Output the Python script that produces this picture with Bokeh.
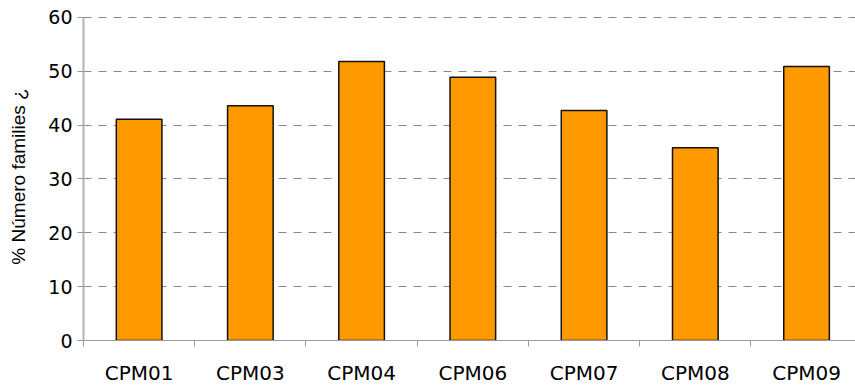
from bokeh.plotting import figure
from bokeh.models import FixedTicker, Range1d, ColumnDataSource
from bokeh.embed import file_html
from bokeh.resources import INLINE

categories = ["CPM01", "CPM03", "CPM04", "CPM06", "CPM07", "CPM08", "CPM09"]
values = [41.1, 43.6, 51.8, 48.9, 42.7, 35.8, 50.9]
y_ticks = [0, 10, 20, 30, 40, 50, 60]

positions = [i + 0.5 for i in range(len(categories))]
src = ColumnDataSource(dict(x=positions, top=values, cat=categories))

p = figure(width=855, height=387, output_backend="svg", toolbar_location=None,
           x_range=Range1d(0, 6.94), y_range=Range1d(0, 60.92),
           min_border_left=83, min_border_right=0, min_border_top=12, min_border_bottom=45)
p.outline_line_color = None
p.background_fill_color = "white"
p.border_fill_color = "white"

p.vbar(x="x", top="top", width=0.41, bottom=0, source=src,
       fill_color="#FF9900", line_color="#111111", line_width=1.5)

# x axis
p.xaxis.ticker = FixedTicker(ticks=positions, minor_ticks=list(range(len(categories) + 1)))
p.xaxis.major_label_overrides = {pos: c for pos, c in zip(positions, categories)}
p.xaxis.major_tick_out = 0
p.xaxis.major_tick_in = 0
p.xaxis.minor_tick_out = 6
p.xaxis.minor_tick_in = 0
p.xaxis.minor_tick_line_color = "#999999"
p.xaxis.axis_line_color = "#999999"
p.xaxis.axis_line_width = 1
p.xaxis.major_label_text_font = "DejaVu Sans"
p.xaxis.major_label_text_font_size = "20px"
p.xaxis.major_label_text_color = "#000000"
p.xaxis.major_label_standoff = 14

# y axis
p.yaxis.ticker = FixedTicker(ticks=y_ticks)
p.yaxis.bounds = (0, 60)
p.yaxis.major_tick_out = 6
p.yaxis.major_tick_in = 0
p.yaxis.minor_tick_line_color = None
p.yaxis.major_tick_line_color = "#999999"
p.yaxis.axis_line_color = "#b4b4b4"
p.yaxis.axis_line_width = 2
p.yaxis.major_label_text_font = "DejaVu Sans"
p.yaxis.major_label_text_font_size = "19px"
p.yaxis.major_label_text_color = "#000000"
p.yaxis.major_label_standoff = 5
p.yaxis.axis_label = "% Número families ¿"
p.yaxis.axis_label_text_font = "Liberation Sans"
p.yaxis.axis_label_text_font_size = "19px"
p.yaxis.axis_label_text_font_style = "normal"
p.yaxis.axis_label_text_color = "#000000"
p.yaxis.axis_label_standoff = 16

p.xgrid.grid_line_color = None
p.ygrid.ticker = FixedTicker(ticks=[10, 20, 30, 40, 50, 60])
p.ygrid.grid_line_color = "#888888"
p.ygrid.grid_line_dash = "8 7"
p.ygrid.grid_line_width = 1

open("out.html", "w").write(file_html(p, INLINE))
